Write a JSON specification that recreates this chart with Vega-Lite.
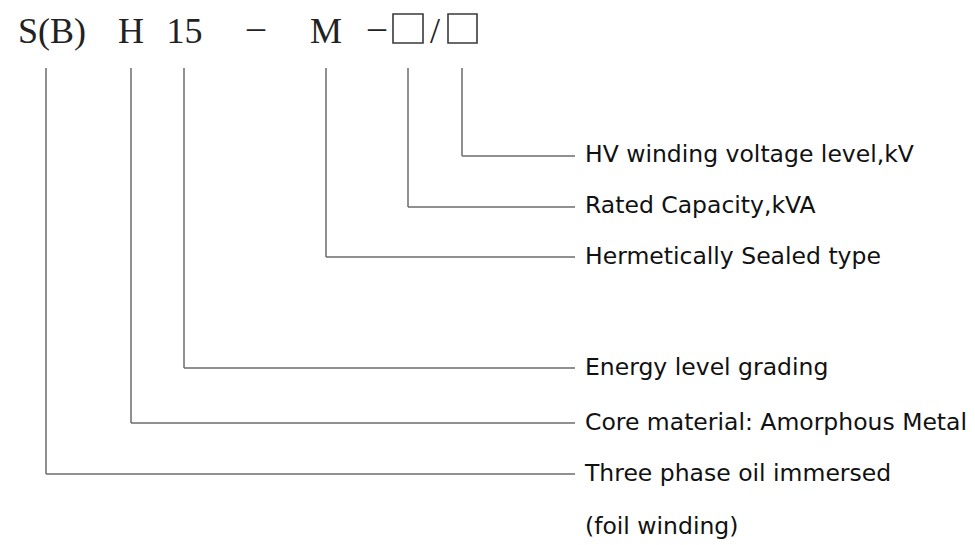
{
  "$schema": "https://vega.github.io/schema/vega-lite/v6.json",
  "width": 975,
  "height": 545,
  "autosize": {"type": "fit", "contains": "padding"},
  "padding": 0,
  "background": "white",
  "config": {"view": {"stroke": null}},
  "datasets": {
    "segments": [
      {"x": 46, "y": 68, "x2": 46, "y2": 474},
      {"x": 131, "y": 68, "x2": 131, "y2": 423},
      {"x": 184, "y": 68, "x2": 184, "y2": 368},
      {"x": 326, "y": 68, "x2": 326, "y2": 257},
      {"x": 408, "y": 68, "x2": 408, "y2": 207},
      {"x": 462, "y": 68, "x2": 462, "y2": 156},
      {"x": 46, "y": 474, "x2": 575, "y2": 474},
      {"x": 131, "y": 423, "x2": 575, "y2": 423},
      {"x": 184, "y": 368, "x2": 575, "y2": 368},
      {"x": 326, "y": 257, "x2": 575, "y2": 257},
      {"x": 408, "y": 207, "x2": 575, "y2": 207},
      {"x": 462, "y": 156, "x2": 575, "y2": 156}
    ],
    "code": [
      {"x": 52, "y": 43, "t": "S(B)"},
      {"x": 131, "y": 43, "t": "H"},
      {"x": 184.5, "y": 43, "t": "15"},
      {"x": 256, "y": 39, "t": "–"},
      {"x": 326, "y": 43, "t": "M"},
      {"x": 377, "y": 39, "t": "–"},
      {"x": 435, "y": 43, "t": "/"}
    ],
    "boxes": [
      {"x": 393, "x2": 423, "y": 14, "y2": 43},
      {"x": 448, "x2": 477, "y": 14, "y2": 43}
    ],
    "labels": [
      {"x": 585, "y": 155, "t": "HV winding voltage level,kV"},
      {"x": 585, "y": 206, "t": "Rated Capacity,kVA"},
      {"x": 585, "y": 257, "t": "Hermetically Sealed type"},
      {"x": 585, "y": 368, "t": "Energy level grading"},
      {"x": 585, "y": 423, "t": "Core material: Amorphous Metal"},
      {"x": 585, "y": 474, "t": "Three phase oil immersed"},
      {"x": 585, "y": 527, "t": "(foil winding)"}
    ]
  },
  "layer": [
    {
      "data": {"name": "segments"},
      "mark": {"type": "rule", "color": "#6b6b6b", "strokeWidth": 1.5},
      "encoding": {
        "x": {"field": "x", "type": "quantitative", "scale": {"domain": [0, 975]}, "axis": null},
        "y": {"field": "y", "type": "quantitative", "scale": {"domain": [0, 545], "reverse": true}, "axis": null},
        "x2": {"field": "x2"},
        "y2": {"field": "y2"}
      }
    },
    {
      "data": {"name": "boxes"},
      "mark": {"type": "rect", "fill": null, "stroke": "#3a3a3a", "strokeWidth": 1.6},
      "encoding": {
        "x": {"field": "x", "type": "quantitative", "scale": {"domain": [0, 975]}, "axis": null},
        "y": {"field": "y", "type": "quantitative", "scale": {"domain": [0, 545], "reverse": true}, "axis": null},
        "x2": {"field": "x2"},
        "y2": {"field": "y2"}
      }
    },
    {
      "data": {"name": "code"},
      "mark": {"type": "text", "font": "Liberation Serif", "fontSize": 36, "align": "center", "baseline": "alphabetic", "color": "#222222"},
      "encoding": {
        "x": {"field": "x", "type": "quantitative", "scale": {"domain": [0, 975]}, "axis": null},
        "y": {"field": "y", "type": "quantitative", "scale": {"domain": [0, 545], "reverse": true}, "axis": null},
        "text": {"field": "t"}
      }
    },
    {
      "data": {"name": "labels"},
      "mark": {"type": "text", "font": "DejaVu Sans", "fontSize": 23.5, "align": "left", "baseline": "middle", "color": "#111111"},
      "encoding": {
        "x": {"field": "x", "type": "quantitative", "scale": {"domain": [0, 975]}, "axis": null},
        "y": {"field": "y", "type": "quantitative", "scale": {"domain": [0, 545], "reverse": true}, "axis": null},
        "text": {"field": "t"}
      }
    }
  ]
}
